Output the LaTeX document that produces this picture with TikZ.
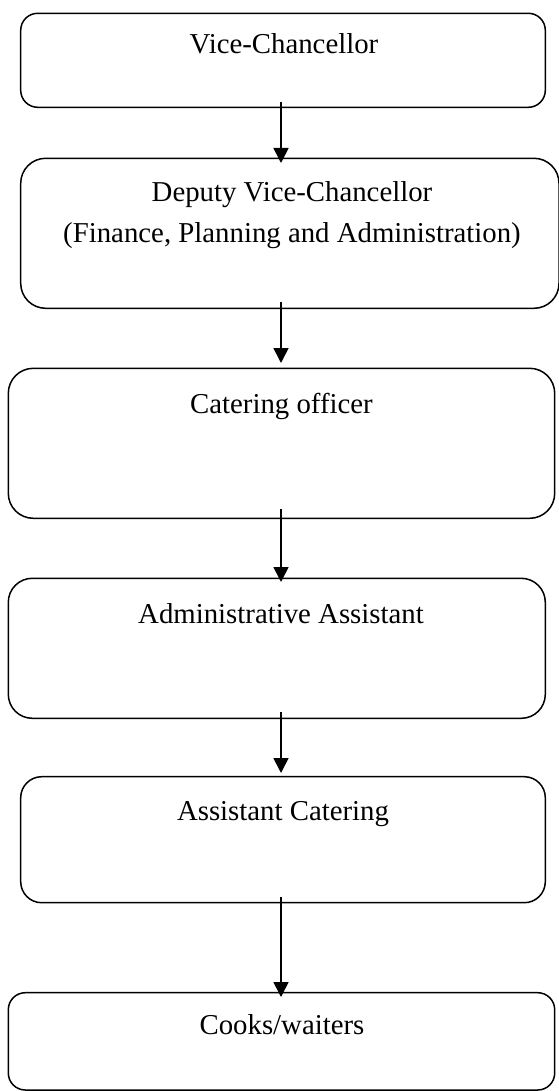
\documentclass[tikz,border=0pt]{standalone}
\usepackage{fontspec}
\setmainfont{Liberation Serif}
\usetikzlibrary{arrows.meta,calc}
\begin{document}
\begin{tikzpicture}[x=1pt,y=-1pt,
  box/.style={draw=black, line width=1.5pt, rectangle, inner sep=0pt, outer sep=0pt},
  lbl/.style={inner sep=0pt, anchor=base, font=\fontsize{28.8pt}{34pt}\selectfont},
  arr/.style={line width=1.7pt, -{Triangle[width=15pt,length=15pt]}}]
\useasboundingbox[fill=white] (0,0) rectangle (558,1091);
% boxes
\node[box, rounded corners=17pt, minimum width=524.6pt, minimum height=94pt]  (b1) at (283,60.3) {};
\node[box, rounded corners=25pt, minimum width=538.3pt, minimum height=150pt] (b2) at (289.85,233.3) {};
\node[box, rounded corners=25pt, minimum width=546.4pt, minimum height=150pt] (b3) at (281.5,443.3) {};
\node[box, rounded corners=24pt, minimum width=537pt,   minimum height=140pt] (b4) at (276.8,648.3) {};
\node[box, rounded corners=21pt, minimum width=524.6pt, minimum height=126pt] (b5) at (283,839.7) {};
\node[box, rounded corners=17pt, minimum width=546.4pt, minimum height=97.3pt] (b6) at (281.5,1041.35) {};
% texts
\node[lbl] (t1)  at (284,54)    {Vice-Chancellor};
\node[lbl] (t2a) at (292,202)   {Deputy Vice-Chancellor};
\node[lbl] (t2b) at (292,242)   {(Finance, Planning and Administration)};
\node[lbl] (t3)  at (281.5,413) {Catering officer};
\node[lbl] (t4)  at (281,623)   {Administrative Assistant};
\node[lbl] (t5)  at (283,820)   {Assistant Catering};
\node[lbl] (t6)  at (282,1034)  {Cooks/waiters};
% arrows
\coordinate (ax) at (281,0);
\draw[arr] ($(ax |- b1.south)+(0,-5.6)$) -- ($(ax |- b2.north)+(0,4.7)$);
\draw[arr] ($(ax |- b2.south)+(0,-6.6)$) -- ($(ax |- b3.north)+(0,-5.3)$);
\draw[arr] ($(ax |- b3.south)+(0,-9.3)$) -- ($(ax |- b4.north)+(0,3.7)$);
\draw[arr] ($(ax |- b4.south)+(0,-6.3)$) -- ($(ax |- b5.north)+(0,-3.7)$);
\draw[arr] ($(ax |- b5.south)+(0,-5.7)$) -- ($(ax |- b6.north)+(0,4.3)$);
\end{tikzpicture}
\end{document}
